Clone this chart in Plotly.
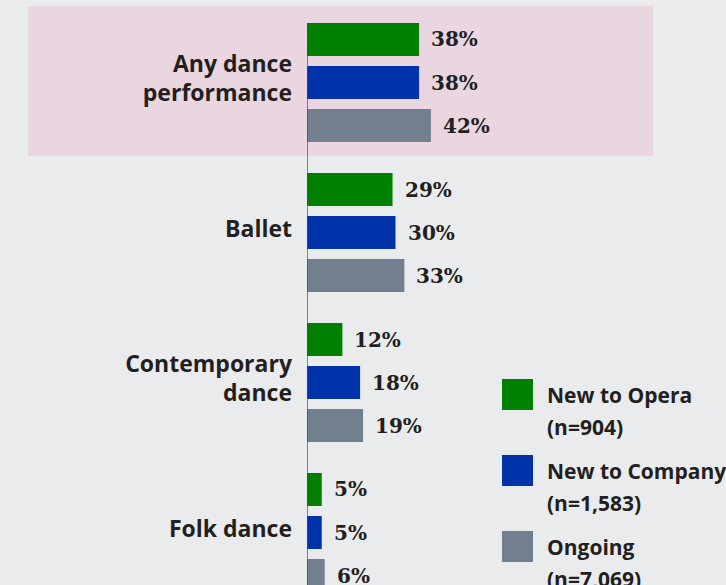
import plotly.graph_objects as go

# Dance attendance by audience segment (% who attended)
categories = ["Any dance performance", "Ballet", "Contemporary dance", "Folk dance"]
tick_labels = ["Any dance<br>performance", "Ballet", "Contemporary<br>dance", "Folk dance"]

series_names = ["New to Opera", "New to Company", "Ongoing"]
series_n = ["(n=904)", "(n=1,583)", "(n=7,069)"]
new_to_opera = [38, 29, 12, 5]
new_to_company = [38, 30, 18, 5]
ongoing = [42, 33, 19, 6]
series_values = [new_to_opera, new_to_company, ongoing]
series_colors = ["#008000", "#0033AA", "#717F8E"]

W, H = 726, 585
LEFT = 307                     # pixel position of the zero line
PX_PER_PCT = 2.95
BG = "#EAEBED"
HILITE = "#EAD6E0"
TEXT = "#231F20"

bar_w = 0.22                   # bar thickness in category units
bar_step = 0.2867              # distance between bars of one group
first_off = -0.3967

x_max = (W - LEFT) / PX_PER_PCT


def px_x(p):
    return (p - LEFT) / (W - LEFT)


def px_y(p):
    return 1 - p / H


fig = go.Figure()
annotations = []
for k, (name, vals, col) in enumerate(zip(series_names, series_values, series_colors)):
    off = first_off + k * bar_step
    fig.add_trace(go.Bar(
        y=categories, x=vals, orientation="h", name=name,
        marker=dict(color=col, line=dict(width=0)),
        offset=off, width=bar_w, showlegend=False, hoverinfo="x+name",
    ))
    for i, v in enumerate(vals):
        annotations.append(dict(
            x=v, y=i + off + bar_w / 2, xref="x", yref="y",
            text=f"{v}%", showarrow=False, xanchor="left", yanchor="middle",
            xshift=10,
            font=dict(family="DejaVu Serif", size=20, color=TEXT, weight="bold"),
        ))

shapes = [
    # highlight band behind the first group
    dict(type="rect", xref="paper", yref="paper",
         x0=px_x(28), x1=px_x(653), y0=px_y(156), y1=px_y(6),
         fillcolor=HILITE, line=dict(width=0), layer="below"),
    # baseline
    dict(type="line", xref="x", yref="y", x0=0, x1=0,
         y0=first_off, y1=len(categories) - 0.65,
         line=dict(color="#4A4A4A", width=1.3)),
]

# legend: coloured squares with two-line labels
leg_top = 379
leg_step = 76
sq = 31
for k, (name, n, col) in enumerate(zip(series_names, series_n, series_colors)):
    top = leg_top + k * leg_step
    shapes.append(dict(type="rect", xref="paper", yref="paper",
                       x0=px_x(502), x1=px_x(502 + sq),
                       y0=px_y(top + sq), y1=px_y(top),
                       fillcolor=col, line=dict(width=0)))
    for line_text, cy in ((name, top + sq / 2), (n, top + 48)):
        annotations.append(dict(
            x=px_x(545), y=px_y(cy), xref="paper", yref="paper",
            text=line_text, showarrow=False, xanchor="left", yanchor="middle",
            font=dict(family="Open Sans", size=21, color=TEXT, weight="bold"),
        ))

fig.update_layout(
    width=W, height=H,
    margin=dict(l=LEFT, r=0, t=0, b=0, autoexpand=False),
    paper_bgcolor=BG, plot_bgcolor="rgba(0,0,0,0)",
    barmode="overlay",
    shapes=shapes, annotations=annotations,
    xaxis=dict(range=[0, x_max], visible=False, fixedrange=True),
    yaxis=dict(
        type="category", categoryorder="array", categoryarray=categories,
        range=[len(categories) - 0.65, -0.55],
        tickmode="array", tickvals=categories, ticktext=tick_labels,
        showgrid=False, zeroline=False, showline=False, ticks="",
        ticklabelstandoff=14, ticklabelshift=4, automargin=False,
        tickfont=dict(family="Open Sans", size=23, color=TEXT, weight="bold"),
        fixedrange=True,
    ),
    showlegend=False,
)

fig.write_html("out.html")
